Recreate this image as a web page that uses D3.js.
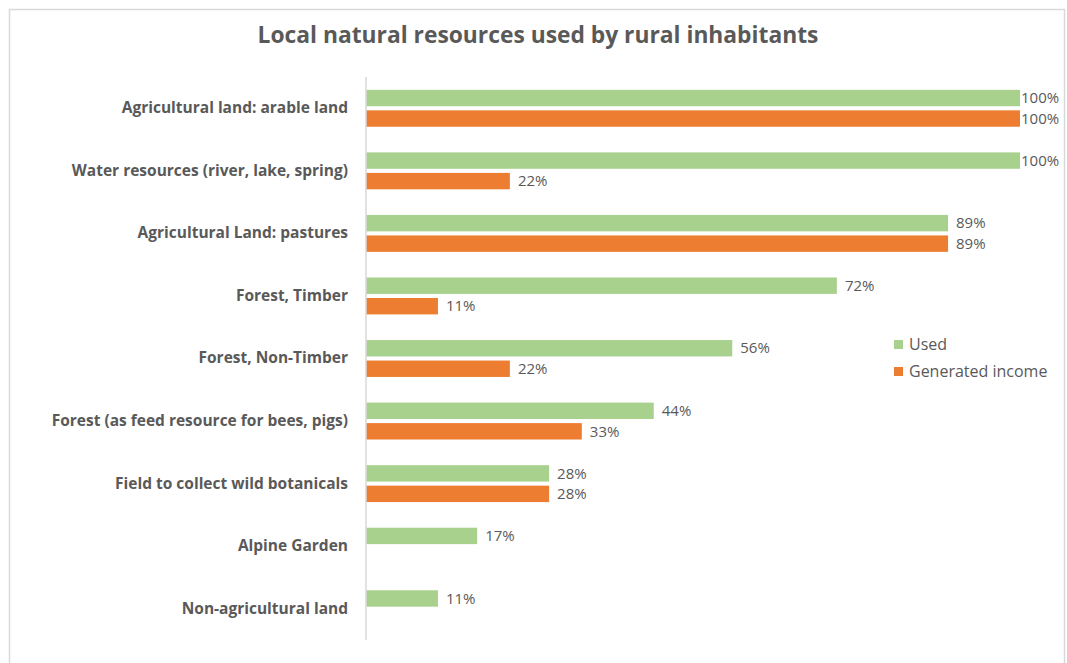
<!DOCTYPE html>
<html>
<head>
<meta charset="utf-8">
<script src="https://cdn.jsdelivr.net/npm/d3@7"></script>
<style>
  body { margin: 0; background: #fff; }
  text { font-family: "Open Sans", "DejaVu Sans", sans-serif; fill: #595959; }
</style>
</head>
<body>
<div id="chart"></div>
<script>
// resource categories, top to bottom
const categories = [
    'Agricultural land: arable land',
    'Water resources (river, lake, spring)',
    'Agricultural Land: pastures',
    'Forest, Timber',
    'Forest, Non-Timber',
    'Forest (as feed resource for bees, pigs)',
    'Field to collect wild botanicals',
    'Alpine Garden',
    'Non-agricultural land'
];
const used = [100, 100, 89, 72, 56, 44, 28, 17, 11];
const generatedIncome = [100, 22, 89, 11, 22, 33, 28, null, null];
const seriesNames = ['Used', 'Generated income'];
const seriesColors = ['#a9d18e', '#ed7d31'];

const width = 1067, height = 663;
const margin = {top: 77, right: 47, bottom: 23, left: 366},
    innerW = 1020 - margin.left,
    innerH = 640 - margin.top;

const svg = d3.select('#chart')
    .append('svg')
    .attr('width', width)
    .attr('height', height);

// chart frame
svg.append('rect')
    .attr('x', 9.5).attr('y', 9.5)
    .attr('width', 1055).attr('height', 700)
    .attr('fill', 'none')
    .attr('stroke', '#d9d9d9')
    .attr('stroke-width', 1.5);

svg.append('text')
    .attr('x', 538)
    .attr('y', 43)
    .attr('text-anchor', 'middle')
    .style('font-size', '22.8px')
    .style('font-weight', 'bold')
    .text('Local natural resources used by rural inhabitants');

const g = svg.append('g')
    .attr('transform', `translate(${margin.left},${margin.top})`);

const x = d3.scaleLinear().domain([0, 100]).range([0, innerW]);
const y = d3.scaleBand().domain(categories).range([0, innerH]).paddingInner(0.41).paddingOuter(0.205);
const sub = d3.scaleBand().domain(seriesNames).range([0, y.bandwidth()]).paddingInner(0.2);

const rows = categories.map((c, i) => ({cat: c, values: [used[i], generatedIncome[i]]}));

const row = g.selectAll('.row')
    .data(rows)
    .enter().append('g')
    .attr('class', 'row')
    .attr('transform', d => `translate(0,${y(d.cat)})`);

const bars = row.selectAll('.bar')
    .data(d => d.values.map((v, k) => ({name: seriesNames[k], value: v, k: k})).filter(e => e.value != null))
    .enter();

bars.append('rect')
    .attr('class', 'bar')
    .attr('x', 0)
    .attr('y', d => sub(d.name))
    .attr('width', d => x(d.value))
    .attr('height', sub.bandwidth())
    .attr('fill', d => seriesColors[d.k]);

// value labels; the full-length bars get their label tucked against the end
bars.append('text')
    .attr('x', d => Math.min(x(d.value) + 8, innerW + 1))
    .attr('y', d => sub(d.name) + sub.bandwidth() / 2)
    .attr('dy', '0.35em')
    .style('font-size', '15px')
    .text(d => d.value + '%');

// category axis
const yAxis = g.append('g')
    .call(d3.axisLeft(y).tickSize(0).tickPadding(18));
yAxis.select('.domain').attr('stroke', '#d9d9d9').attr('stroke-width', 1.5)
    .attr('d', `M0,0V${innerH}`);
yAxis.selectAll('.tick text')
    .style('font-size', '15.5px')
    .style('font-weight', 'bold')
    .style('font-family', '"Open Sans", sans-serif')
    .attr('fill', '#595959');

// legend
const legend = svg.append('g')
    .attr('transform', 'translate(894,338)');
seriesNames.forEach((name, i) => {
    const item = legend.append('g').attr('transform', `translate(0,${i * 27})`);
    item.append('rect')
        .attr('width', 9).attr('height', 9)
        .attr('y', 2)
        .attr('fill', seriesColors[i]);
    item.append('text')
        .attr('x', 15)
        .attr('y', 6.5)
        .attr('dy', '0.35em')
        .style('font-size', '16px')
        .text(name);
});
</script>
</body>
</html>
